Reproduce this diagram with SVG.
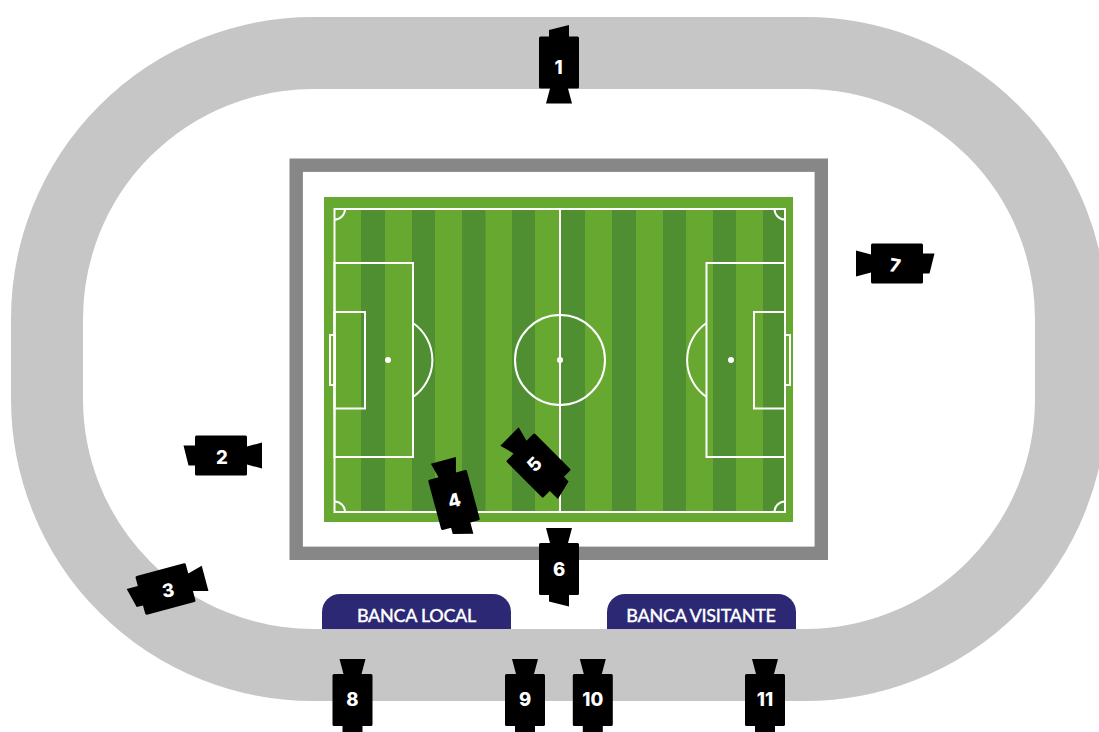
<svg xmlns="http://www.w3.org/2000/svg" width="1099" height="732" viewBox="0 0 1099 732">
<style>
.dark{fill:#4f8f32}
.ln{fill:none;stroke:#fff;stroke-width:2}
.num{font-family:"Inter","Liberation Sans",sans-serif;font-weight:800;font-size:18.500px;fill:#fff;text-anchor:middle}
.bn{font-family:"Lato","Liberation Sans",sans-serif;font-weight:500;font-size:18px;letter-spacing:-.3px;fill:#fff;stroke:#fff;stroke-width:.3px;text-anchor:middle}
.bench{fill:#2c2873}
</style>
<defs>
<path id="cam" d="M-18.5-26H18.5Q20-26 20-24.5V24.5Q20 26 18.5 26H9L13 41H-13L-9 26H-18.5Q-20 26-20 24.5V-24.5Q-20-26-18.5-26H-10V-32.5L10-37.5V-26Z" fill="#000"/>
</defs>
<rect width="1099" height="732" fill="#fff"/>
<g id="track"><rect x="47" y="53" width="1024" height="612" rx="266" ry="266" fill="none" stroke="#c6c6c6" stroke-width="72"/></g>
<g id="frame"><rect x="296.200" y="165.200" width="525.100" height="388.100" fill="none" stroke="#878787" stroke-width="13.400"/></g>
<g id="pitch">
<rect x="324" y="197" width="469" height="325" fill="#66a830"/>
<rect class="dark" x="361" y="209" width="24" height="303"/>
<rect class="dark" x="412" y="209" width="23" height="303"/>
<rect class="dark" x="462" y="209" width="23.500" height="303"/>
<rect class="dark" x="512" y="209" width="23" height="303"/>
<rect class="dark" x="561" y="209" width="24" height="303"/>
<rect class="dark" x="612" y="209" width="24" height="303"/>
<rect class="dark" x="663" y="209" width="23" height="303"/>
<rect class="dark" x="713" y="209" width="23" height="303"/>
<rect class="dark" x="763" y="209" width="21" height="303"/>
<rect class="ln" x="334.500" y="209" width="450.500" height="303"/>
<path class="ln" d="M560 209V512"/>
<circle class="ln" cx="560" cy="360" r="45"/>
<circle cx="560" cy="360" r="3" fill="#fff"/>
<rect class="ln" x="334.500" y="263" width="78.500" height="194"/>
<rect class="ln" x="334.500" y="312" width="30.500" height="96.500"/>
<rect class="ln" x="330" y="335" width="5" height="50"/>
<circle cx="388" cy="360" r="3" fill="#fff"/>
<path class="ln" d="M413 323A45 45 0 0 1 413 397"/>
<rect class="ln" x="706.500" y="263" width="78.500" height="194"/>
<rect class="ln" x="754" y="312" width="31" height="96.500"/>
<rect class="ln" x="785" y="335" width="5" height="50"/>
<circle cx="731" cy="360" r="3" fill="#fff"/>
<path class="ln" d="M706.500 323A45 45 0 0 0 706.500 397"/>
<path class="ln" d="M334.500 219.500A10.500 10.500 0 0 0 345 209M774.500 209A10.500 10.500 0 0 0 785 219.500M334.500 501.500A10.500 10.500 0 0 1 345 512M774.500 512A10.500 10.500 0 0 1 785 501.500"/>
</g>
<g id="banca-local"><path class="bench" d="M322 629V612A18 18 0 0 1 340 594H493A18 18 0 0 1 511 612V629Z"/><text class="bn" x="416.500" y="622">BANCA LOCAL</text></g>
<g id="banca-visitante"><path class="bench" d="M607 629V612A18 18 0 0 1 625 594H778A18 18 0 0 1 796 612V629Z"/><text class="bn" x="701" y="622">BANCA VISITANTE</text></g>
<g id="connectors"></g>
<g id="cam1"><use href="#cam" transform="translate(559 62.500)"/><text class="num" x="558.500" y="73.500">1</text></g>
<g id="cam2"><use href="#cam" transform="translate(221 455.500) rotate(-90)"/><text class="num" x="222" y="464">2</text></g>
<g id="cam3"><use href="#cam" transform="translate(165.500 589) rotate(-105)"/><text class="num" x="168" y="597" transform="rotate(-8 168 590)">3</text></g>
<g id="cam4"><use href="#cam" transform="translate(454 500) rotate(-15) scale(1 -1)"/><text class="num" x="454" y="507" transform="rotate(-15 454 500)">4</text></g>
<g id="cam5"><use href="#cam" transform="translate(538.500 465.500) rotate(135)"/><text class="num" x="534" y="471" transform="rotate(-45 534 464)">5</text></g>
<g id="cam6"><use href="#cam" transform="translate(559 569) scale(1 -1)"/><text class="num" x="559" y="576">6</text></g>
<g id="cam7"><use href="#cam" transform="translate(897 263.500) rotate(90) scale(-1 1)"/><text class="num" x="895" y="272" transform="rotate(10 895 265)">7</text></g>
<g id="cam8"><use href="#cam" transform="translate(352.500 700) scale(1 -1)"/><text class="num" x="352.500" y="706">8</text></g>
<g id="cam9"><use href="#cam" transform="translate(525 700) scale(1 -1)"/><text class="num" x="525" y="706">9</text></g>
<g id="cam10"><use href="#cam" transform="translate(592.800 700) scale(1 -1)"/><text class="num" x="592.800" y="706">10</text></g>
<g id="cam11"><use href="#cam" transform="translate(765 700) scale(1 -1)"/><text class="num" x="765" y="706">11</text></g>
</svg>
